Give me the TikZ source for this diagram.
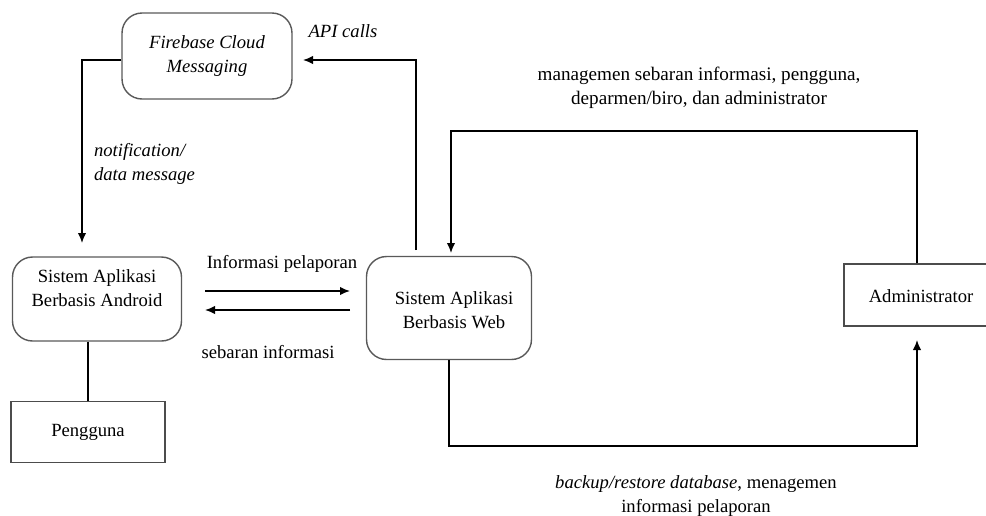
\documentclass[tikz,border=0pt]{standalone}
\usepackage{fontspec}
\setmainfont{Liberation Serif}
\usetikzlibrary{arrows.meta, positioning}

\begin{document}
\begin{tikzpicture}[x=0.02cm, y=-0.02cm,
	font=\fontsize{10.6}{13.5}\selectfont,
	appbox/.style={draw=black!65, line width=0.8pt, rounded corners=0.4cm},
	actor/.style={draw=black!70, line width=0.8pt},
	flow/.style={line width=0.9pt, arrows={-Latex[length=2mm, width=1.7mm]}},
	link/.style={line width=0.9pt},
	txt/.style={align=center, inner sep=1pt}]
	\useasboundingbox (0,0) rectangle (986,515);
	% boxes
	\node [appbox, minimum width=3.4cm, minimum height=1.72cm, txt] (fcm) at (207,56) {\textit{Firebase Cloud}\\\textit{Messaging}};
	\node [appbox, minimum width=3.38cm, minimum height=1.68cm] (android) at (97,299) {};
	\node [txt] (androidtext) at (97,288) {Sistem Aplikasi\\Berbasis Android};
	\node [actor, minimum width=3.08cm, minimum height=1.22cm, txt] (pengguna) at (88,432) {Pengguna};
	\node [appbox, minimum width=3.3cm, minimum height=2.06cm] (web) at (449,308) {};
	\node [txt] (webtext) at (454,310) {Sistem Aplikasi\\Berbasis Web};
	\node [actor, minimum width=2.92cm, minimum height=1.24cm] (admin) at (917,295) {};
	\node [txt] (admintext) at (921,296) {Administrator};
	% free ends
	\coordinate (androidin) at (82,243);
	\coordinate (webout) at (416,250);
	\coordinate (fcmin) at (303,60);
	\coordinate (webin) at (451,253);
	\coordinate (mgmtline) at (684,131);
	\coordinate (backupline) at (684,446);
	\coordinate (adminin) at (917,340);
	\coordinate (repstart) at (205,291);
	\coordinate (repend) at (350,291);
	\coordinate (infostart) at (350,310);
	\coordinate (infoend) at (205,310);
	% connectors
	\draw [flow] ([yshift=-0.08cm]fcm.west) -| (androidin);
	\draw [flow] (webout) |- (fcmin);
	\draw [link] (pengguna.north |- android.south) -- (pengguna.north);
	\draw [flow] (repstart) -- (repend);
	\draw [flow] (infostart) -- (infoend);
	\draw [flow] (admin.north) |- (mgmtline) -| (webin);
	\draw [flow] (web.south) |- (backupline) -| (adminin);
	% labels
	\node [txt] (apilabel) at (343,31) {\textit{API calls}};
	\node [txt, align=left, anchor=west] (notiflabel) at (92,164) {\textit{notification/}\\\textit{data message}};
	\node [txt] (replabel) at (282,264) {Informasi pelaporan};
	\node [txt] (infolabel) at (268,352) {sebaran informasi};
	\node [txt, font=\fontsize{10.9}{13.8}\selectfont] (mgmtlabel) at (699,88) {managemen sebaran informasi, pengguna,\\deparmen/biro, dan administrator};
	\node [txt] (backuplabel) at (696,496) {\textit{backup/restore database}, menagemen\\informasi pelaporan};
\end{tikzpicture}
\end{document}
